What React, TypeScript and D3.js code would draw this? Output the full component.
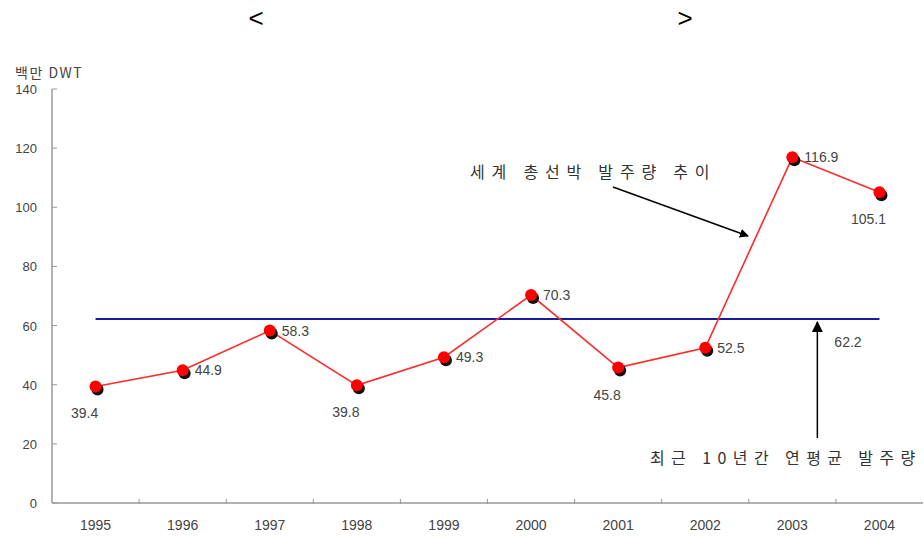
import React from 'react';
import * as d3 from 'd3';

const years = ['1995', '1996', '1997', '1998', '1999', '2000', '2001', '2002', '2003', '2004'];
const orders = [39.4, 44.9, 58.3, 39.8, 49.3, 70.3, 45.8, 52.5, 116.9, 105.1];
const labelPlacement = ['below', 'right', 'right', 'below', 'right', 'right', 'below', 'right', 'right', 'below'];
const average = 62.2;
const yTicks = [0, 20, 40, 60, 80, 100, 120, 140];
const unitLabel = '백만 DWT';
const trendLabel = '세계 총선박 발주량 추이';
const averageLabel = '최근 10년간 연평균 발주량';

const W = 924;
const H = 539;
const numFont = '"Liberation Sans", Arial, sans-serif';
const krFont = '"Noto Sans CJK KR", "Noto Sans", sans-serif';

export default function App() {
  const x = d3.scaleBand<string>().domain(years).range([52, 923]);
  const y = d3.scaleLinear().domain([0, 140]).range([503, 89]);
  const cx = (d: string) => (x(d) as number) + x.bandwidth() / 2;

  const line = d3
    .line<number>()
    .x((_, i) => cx(years[i]))
    .y((v) => y(v));

  const avgY = y(average);
  const arrowX = cx('2003') + 25;

  return (
    <svg
      width={W}
      height={H}
      style={{ position: 'absolute', left: 0, top: 0, display: 'block', background: '#fff' }}
    >
      <defs>
        <marker id="ah" viewBox="0 0 10 10" refX="9" refY="5" markerWidth="9" markerHeight="9" orient="auto" markerUnits="userSpaceOnUse">
          <path d="M0,0 L10,5 L0,10 z" fill="#000" />
        </marker>
        <marker id="ah2" viewBox="0 0 10 10" refX="9" refY="5" markerWidth="11" markerHeight="11" orient="auto" markerUnits="userSpaceOnUse">
          <path d="M0,0 L10,5 L0,10 z" fill="#000" />
        </marker>
      </defs>

      {/* title brackets */}
      <text x={256} y={27} textAnchor="middle" fontFamily={numFont} fontSize={26} fill="#000">&lt;</text>
      <text x={685} y={27} textAnchor="middle" fontFamily={numFont} fontSize={26} fill="#000">&gt;</text>

      {/* unit label */}
      <text x={15} y={78} fontFamily={krFont} fontSize={14} letterSpacing={1.5} fill="#444">{unitLabel}</text>

      {/* axes */}
      <line x1={52} x2={52} y1={y(140)} y2={y(0)} stroke="#999" strokeWidth={1.5} />
      <line x1={52} x2={923} y1={y(0)} y2={y(0)} stroke="#999" strokeWidth={1.5} />
      {yTicks.map((t) => (
        <g key={t}>
          <line x1={52} x2={57} y1={y(t)} y2={y(t)} stroke="#999" strokeWidth={1} />
          <text x={37} y={y(t) + 5} textAnchor="end" fontFamily={numFont} fontSize={13} fill="#444">
            {t}
          </text>
        </g>
      ))}
      {years.slice(1).map((yr) => (
        <line key={yr} x1={x(yr) as number} x2={x(yr) as number} y1={y(0) - 4} y2={y(0) + 1} stroke="#999" strokeWidth={1} />
      ))}
      {years.map((yr) => (
        <text key={yr} x={cx(yr)} y={530} textAnchor="middle" fontFamily={numFont} fontSize={14} fill="#444">
          {yr}
        </text>
      ))}

      {/* average line */}
      <line x1={cx(years[0])} x2={cx(years[years.length - 1])} y1={avgY} y2={avgY} stroke="#1c1c96" strokeWidth={2} />

      {/* series */}
      <path d={line(orders) || ''} fill="none" stroke="#ff2a2a" strokeWidth={1.6} />
      {orders.map((v, i) => (
        <circle key={'s' + i} cx={cx(years[i]) + 2} cy={y(v) + 3} r={6} fill="#111" />
      ))}
      {orders.map((v, i) => (
        <circle key={'p' + i} cx={cx(years[i])} cy={y(v)} r={6} fill="#ff0000" />
      ))}
      {orders.map((v, i) => {
        const px = cx(years[i]);
        const py = y(v);
        const right = labelPlacement[i] === 'right';
        return (
          <text
            key={'l' + i}
            x={right ? px + 12 : px - 11}
            y={right ? py + 5 : py + 32}
            textAnchor={right ? 'start' : 'middle'}
            fontFamily={numFont}
            fontSize={14}
            fill="#444"
          >
            {v.toFixed(1)}
          </text>
        );
      })}

      {/* trend annotation */}
      <text x={470} y={178} fontFamily={krFont} fontSize={16} letterSpacing={6.8} fill="#333">
        {trendLabel}
      </text>
      <line x1={613} y1={187} x2={748} y2={236} stroke="#000" strokeWidth={1.5} markerEnd="url(#ah)" />

      {/* average annotation */}
      <line x1={arrowX} y1={438} x2={arrowX} y2={avgY + 3} stroke="#000" strokeWidth={1.5} markerEnd="url(#ah2)" />
      <text x={arrowX + 17} y={avgY + 28} fontFamily={numFont} fontSize={14} fill="#444">
        {average.toFixed(1)}
      </text>
      <text x={650} y={464} fontFamily={krFont} fontSize={16} letterSpacing={6.4} fill="#333">
        {averageLabel}
      </text>
    </svg>
  );
}
